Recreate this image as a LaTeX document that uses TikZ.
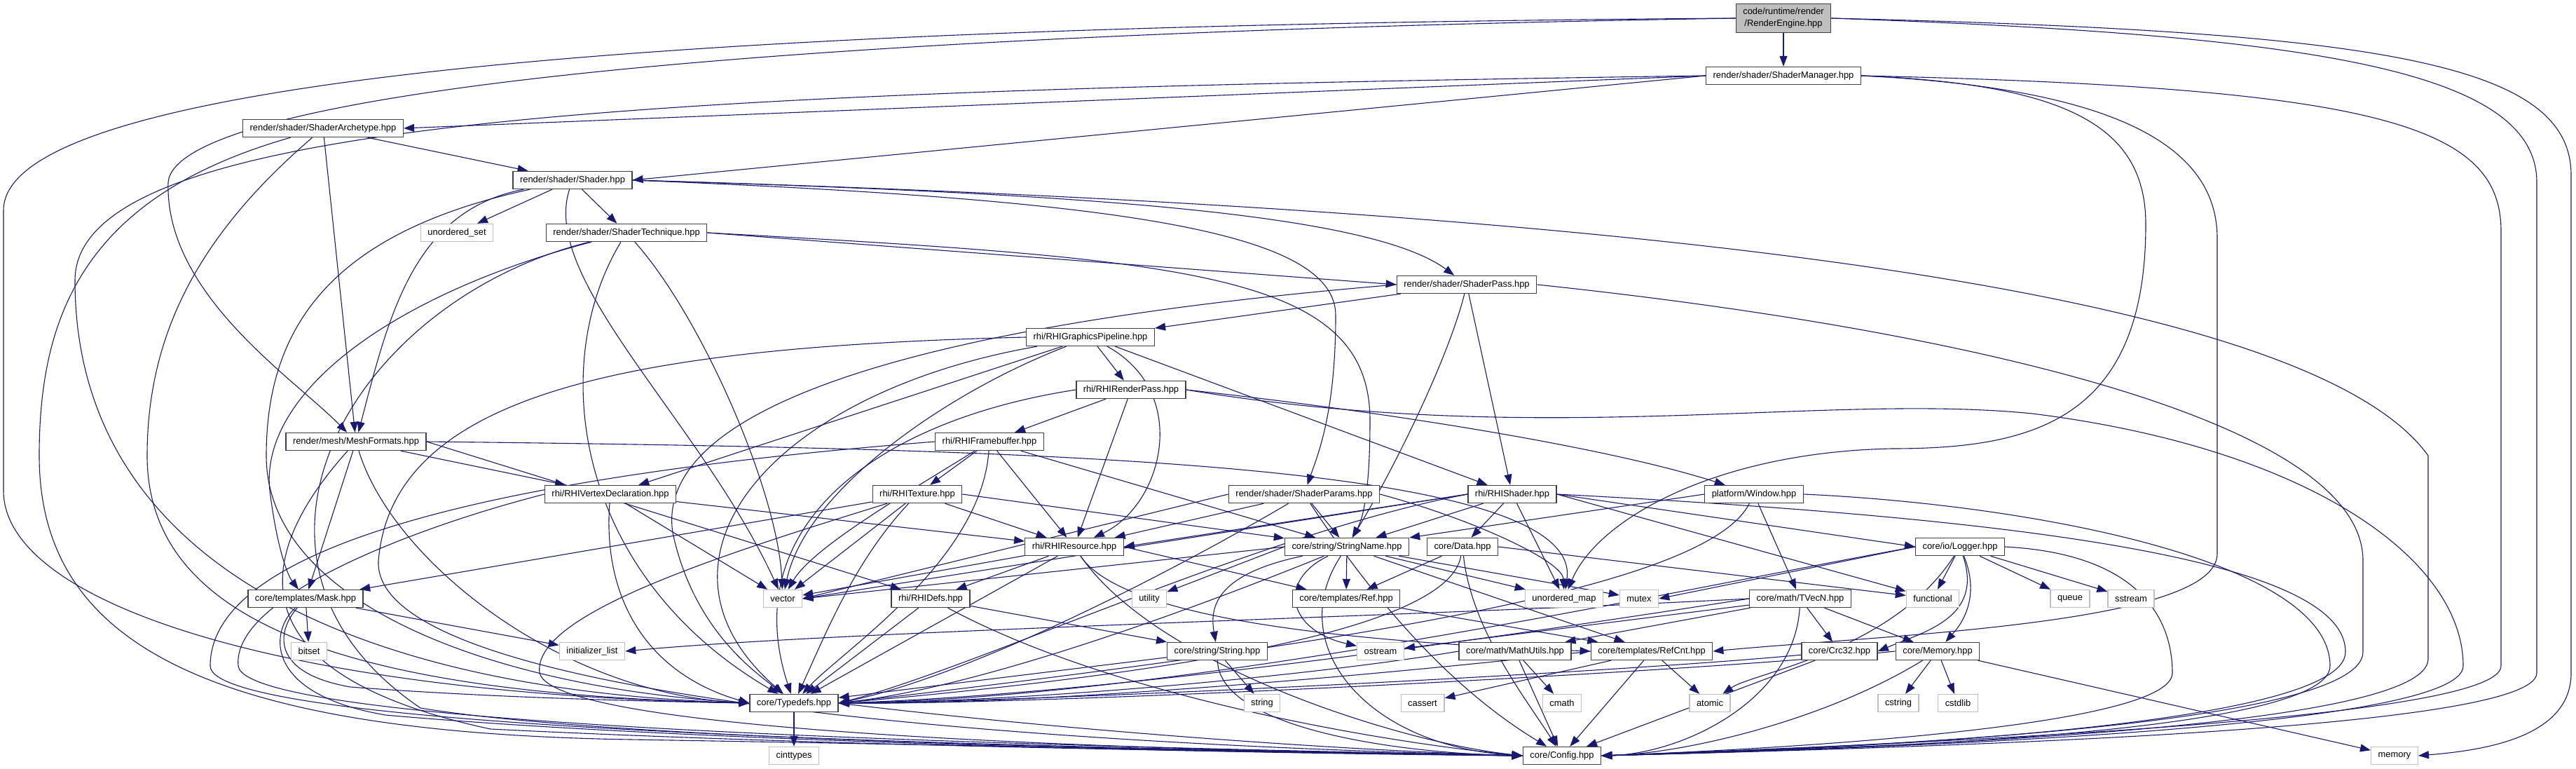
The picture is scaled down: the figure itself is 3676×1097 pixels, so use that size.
\documentclass[tikz,border=0pt]{standalone}
\usepackage{fontspec}
\setmainfont{Liberation Sans}
\usetikzlibrary{arrows.meta}
\definecolor{edgeblue}{HTML}{191970}
\pgfdeclarelayer{bg}
\pgfsetlayers{bg,main}

\begin{document}
\begin{tikzpicture}[x=1pt, y=-1pt,
      hdr/.style={draw=black!75, line width=1.4pt, fill=white, minimum height=25pt,
                  inner xsep=10pt, inner ysep=2pt, font=\fontsize{12.9}{16.7}\selectfont},
      sys/.style={hdr, draw=black!25},
      root/.style={hdr, fill=black!25, align=center, minimum height=41pt},
      dep/.style={draw=edgeblue, line width=1.1pt, -{Triangle[length=15pt,width=11pt]}}]
    \useasboundingbox (0,0) rectangle (3676,1097);

    % headers of the project
    \node[root] (re) at (2545,26) {code/runtime/render\\/RenderEngine.hpp};
    \node[hdr] (sm) at (2545,108) {render/shader/ShaderManager.hpp};
    \node[hdr] (arch) at (461,183) {render/shader/ShaderArchetype.hpp};
    \node[hdr] (shader) at (817,257) {render/shader/Shader.hpp};
    \node[sys] (uset) at (652,332) {unordered\_set};
    \node[hdr] (tech) at (894,332) {render/shader/ShaderTechnique.hpp};
    \node[hdr] (pass) at (2093,406) {render/shader/ShaderPass.hpp};
    \node[hdr] (gp) at (1556,481) {rhi/RHIGraphicsPipeline.hpp};
    \node[hdr] (rp) at (1614,556) {rhi/RHIRenderPass.hpp};
    \node[hdr] (mesh) at (508,630) {render/mesh/MeshFormats.hpp};
    \node[hdr] (fb) at (1412,630) {rhi/RHIFramebuffer.hpp};
    \node[hdr] (vd) at (871,705) {rhi/RHIVertexDeclaration.hpp};
    \node[hdr] (tex) at (1309,705) {rhi/RHITexture.hpp};
    \node[hdr] (params) at (1861,705) {render/shader/ShaderParams.hpp};
    \node[hdr] (rs) at (2158,705) {rhi/RHIShader.hpp};
    \node[hdr] (win) at (2503,705) {platform/Window.hpp};
    \node[hdr] (res) at (1533,780) {rhi/RHIResource.hpp};
    \node[hdr] (sn) at (1922,780) {core/string/StringName.hpp};
    \node[hdr] (data) at (2087,780) {core/Data.hpp};
    \node[hdr] (logger) at (2797,780) {core/io/Logger.hpp};
    \node[hdr] (mask) at (436,854) {core/templates/Mask.hpp};
    \node[sys] (vector) at (1117,854) {vector};
    \node[hdr] (defs) at (1328,854) {rhi/RHIDefs.hpp};
    \node[sys] (utility) at (1640,854) {utility};
    \node[hdr] (ref) at (1921,854) {core/templates/Ref.hpp};
    \node[sys] (umap) at (2232,854) {unordered\_map};
    \node[sys] (mutex) at (2339,854) {mutex};
    \node[hdr] (tvec) at (2569,854) {core/math/TVecN.hpp};
    \node[sys] (functional) at (2758,854) {functional};
    \node[sys] (queue) at (2954,854) {queue};
    \node[sys] (sstream) at (3041,854) {sstream};
    \node[sys] (bitset) at (441,929) {bitset};
    \node[sys] (initlist) at (845,929) {initializer\_list};
    \node[hdr] (str) at (1737,929) {core/string/String.hpp};
    \node[sys] (ostream) at (1970,929) {ostream};
    \node[hdr] (mu) at (2162,929) {core/math/MathUtils.hpp};
    \node[hdr] (rc) at (2357,929) {core/templates/RefCnt.hpp};
    \node[hdr] (crc) at (2625,929) {core/Crc32.hpp};
    \node[hdr] (mem) at (2765,929) {core/Memory.hpp};
    \node[hdr] (typedefs) at (1133,1003) {core/Typedefs.hpp};
    \node[sys] (stdstring) at (1801,1003) {string};
    \node[sys] (cassert) at (2030,1003) {cassert};
    \node[sys] (cmath) at (2229,1003) {cmath};
    \node[sys] (atomic) at (2440,1003) {atomic};
    \node[sys] (cstring) at (2709,1003) {cstring};
    \node[sys] (cstdlib) at (2794,1003) {cstdlib};
    \node[sys] (cinttypes) at (1133,1078) {cinttypes};
    \node[hdr] (config) at (2229,1078) {core/Config.hpp};
    \node[sys] (memory) at (3417,1078) {memory};

    \begin{pgfonlayer}{bg}
    % render engine
    \draw[dep] (re) -- (sm);
    \draw[dep] (re.west) .. controls (1000,50) and (250,140) .. (240,260) .. controls (235,420) and (420,540) .. (mesh);
    \draw[dep] (re.west) .. controls (1200,35) and (5,90) .. (5,300) -- (5,700) .. controls (5,860) and (400,990) .. (typedefs.west);
    \draw[dep] (re.east) .. controls (3300,50) and (3620,100) .. (3620,260) -- (3620,960) .. controls (3620,1040) and (2800,1065) .. (config.east);
    \draw[dep] (re.east) .. controls (3400,45) and (3669,90) .. (3669,250) -- (3669,960) .. controls (3669,1050) and (3550,1070) .. (memory.east);
    % shader manager
    \draw[dep] (sm.west) -- (arch.east);
    \draw[dep] (sm.west) -- (shader.east);
    \draw[dep] (sm.west) .. controls (900,130) and (107,170) .. (107,400) .. controls (107,800) and (500,985) .. (typedefs.west);
    \draw[dep] (sm.east) .. controls (2950,120) and (3062,180) .. (3062,320) .. controls (3062,600) and (2900,640) .. (2700,640) .. controls (2450,645) and (2280,740) .. (umap);
    \draw[dep] (sm.east) .. controls (3000,125) and (3164,200) .. (3164,340) -- (3164,790) .. controls (3164,890) and (2700,905) .. (rc.east);
    \draw[dep] (sm.east) .. controls (3400,125) and (3569,180) .. (3569,330) -- (3569,950) .. controls (3569,1020) and (2900,1055) .. (config.east);
    % archetype
    \draw[dep] (arch) -- (shader);
    \draw[dep] (arch) -- (mesh);
    \draw[dep] (arch) .. controls (120,280) and (56,450) .. (56,650) .. controls (56,920) and (300,1045) .. (900,1055) .. controls (1500,1065) and (1900,1075) .. (config.west);
    \draw[dep] (arch) .. controls (290,330) and (210,470) .. (210,650) .. controls (210,890) and (500,990) .. (typedefs.west);
    % shader
    \draw[dep] (shader) -- (uset);
    \draw[dep] (shader) -- (tech);
    \draw[dep] (shader.east) .. controls (1500,275) and (1950,300) .. (pass);
    \draw[dep] (shader.east) .. controls (1600,285) and (1906,330) .. (1906,450) .. controls (1906,590) and (1880,650) .. (params);
    \draw[dep] (shader.east) .. controls (2400,300) and (3300,420) .. (3465,650) -- (3465,940) .. controls (3465,1040) and (2700,1066) .. (config.east);
    \draw[dep] (shader) .. controls (590,300) and (555,450) .. (mesh);
    \draw[dep] (shader) .. controls (480,330) and (380,460) .. (380,650) .. controls (380,860) and (700,980) .. (typedefs.west);
    \draw[dep] (shader) .. controls (770,400) and (1000,600) .. (vector);
    % technique
    \draw[dep] (tech.east) -- (pass.west);
    \draw[dep] (tech.east) .. controls (1700,370) and (1955,390) .. (1955,600) .. controls (1955,700) and (1945,740) .. (sn);
    \draw[dep] (tech) .. controls (1000,450) and (1110,700) .. (vector);
    \draw[dep] (tech) .. controls (560,420) and (370,560) .. (385,700) .. controls (395,780) and (410,820) .. (mask);
    \draw[dep] (tech) .. controls (780,520) and (820,820) .. (typedefs);
    \draw[dep] (tech) .. controls (500,430) and (290,800) .. (600,1010) .. controls (900,1060) and (1800,1072) .. (config.west);
    % pass
    \draw[dep] (pass) -- (gp);
    \draw[dep] (pass) .. controls (2070,500) and (2000,650) .. (sn);
    \draw[dep] (pass) -- (rs);
    \draw[dep] (pass.west) .. controls (1400,455) and (930,560) .. (960,760) .. controls (990,900) and (1080,960) .. (typedefs);
    \draw[dep] (pass.east) .. controls (2800,470) and (3372,600) .. (3372,800) -- (3372,930) .. controls (3372,1040) and (2600,1068) .. (config.east);
    % pipeline
    \draw[dep] (gp) -- (rp);
    \draw[dep] (gp) -- (vd);
    \draw[dep] (gp) -- (rs);
    \draw[dep] (gp) .. controls (1700,560) and (1660,720) .. (res);
    \draw[dep] (gp) .. controls (1350,560) and (1150,700) .. (vector);
    \draw[dep] (gp) .. controls (1100,560) and (900,800) .. (typedefs);
    \draw[dep] (gp.west) .. controls (900,495) and (560,560) .. (540,800) .. controls (530,1000) and (1500,1062) .. (config.west);
    % render pass
    \draw[dep] (rp) -- (fb);
    \draw[dep] (rp) -- (res);
    \draw[dep] (rp.west) .. controls (1250,600) and (1050,750) .. (typedefs);
    \draw[dep] (rp.east) .. controls (2000,590) and (2300,640) .. (win);
    \draw[dep] (rp.east) .. controls (2200,640) and (2600,560) .. (2900,590) .. controls (3300,640) and (3515,800) .. (3515,950) .. controls (3515,1040) and (2700,1067) .. (config.east);
    % framebuffer
    \draw[dep] (fb) -- (tex);
    \draw[dep] (fb) -- (res);
    \draw[dep] (fb) .. controls (1300,700) and (1160,780) .. (vector);
    \draw[dep] (fb) .. controls (1400,800) and (1200,930) .. (typedefs);
    \draw[dep] (fb.west) .. controls (700,680) and (300,780) .. (300,950) .. controls (300,1045) and (1500,1066) .. (config.west);
    \draw[dep] (fb) -- (sn);
    % texture
    \draw[dep] (tex) -- (res);
    \draw[dep] (tex) -- (mask);
    \draw[dep] (tex) -- (vector);
    \draw[dep] (tex) .. controls (1220,800) and (1180,900) .. (typedefs);
    \draw[dep] (tex) .. controls (1000,800) and (760,880) .. (770,960) .. controls (790,1045) and (1600,1070) .. (config.west);
    \draw[dep] (tex.east) -- (sn);
    % vertex declaration
    \draw[dep] (vd) -- (res);
    \draw[dep] (vd) -- (vector);
    \draw[dep] (vd) .. controls (860,850) and (920,960) .. (typedefs.west);
    \draw[dep] (vd.west) .. controls (600,750) and (330,850) .. (340,950) .. controls (350,1040) and (1500,1064) .. (config.west);
    % mesh formats
    \draw[dep] (mesh) -- (vd);
    \draw[dep] (mesh) -- (mask);
    \draw[dep] (mesh.east) -- (defs);
    \draw[dep] (mesh.east) .. controls (1500,640) and (2260,660) .. (umap);
    \draw[dep] (mesh) .. controls (560,800) and (800,990) .. (typedefs.west);
    \draw[dep] (mesh) .. controls (400,750) and (280,950) .. (700,1040) .. controls (1200,1065) and (1800,1073) .. (config.west);
    % mask
    \draw[dep] (mask) -- (bitset);
    \draw[dep] (mask) -- (initlist);
    \draw[dep] (mask) .. controls (395,900) and (385,960) .. (500,980) .. controls (700,995) and (900,1000) .. (typedefs.west);
    \draw[dep] (mask) .. controls (385,900) and (375,990) .. (550,1020) .. controls (1000,1060) and (1800,1075) .. (config.west);
    % resource
    \draw[dep] (res) -- (defs);
    \draw[dep] (res) -- (vector);
    \draw[dep] (res) -- (typedefs);
    \draw[dep] (res.east) -- (ref);
    \draw[dep] (res) .. controls (1600,880) and (1900,915) .. (rc.west);
    \draw[dep] (res) .. controls (1650,950) and (2000,1060) .. (config.west);
    % defs
    \draw[dep] (defs) -- (typedefs);
    \draw[dep] (defs) -- (str);
    \draw[dep] (defs) .. controls (1600,1000) and (2000,1062) .. (config.west);
    % shader params
    \draw[dep] (params) -- (sn);
    \draw[dep] (params.east) .. controls (2100,740) and (2230,800) .. (umap);
    \draw[dep] (params) -- (res);
    \draw[dep] (params.west) -- (vector.east);
    \draw[dep] (params) .. controls (1700,800) and (1400,960) .. (typedefs.east);
    \draw[dep] (params) .. controls (1990,900) and (2100,1000) .. (config);
    % rhi shader
    \draw[dep] (rs.west) -- (res.east);
    \draw[dep] (rs.west) -- (vector.east);
    \draw[dep] (rs) -- (sn);
    \draw[dep] (rs) -- (data);
    \draw[dep] (rs) -- (umap);
    \draw[dep] (rs.east) -- (functional);
    \draw[dep] (rs.east) -- (logger.west);
    \draw[dep] (rs.west) .. controls (1800,760) and (1400,950) .. (typedefs.east);
    \draw[dep] (rs.east) .. controls (2900,740) and (3347,800) .. (3347,930) .. controls (3347,1040) and (2600,1070) .. (config.east);
    % window
    \draw[dep] (win) -- (tvec);
    \draw[dep] (win.west) -- (sn);
    \draw[dep] (win) .. controls (2440,830) and (2000,910) .. (typedefs.east);
    \draw[dep] (win.east) .. controls (2900,720) and (3325,800) .. (3325,950) .. controls (3325,1050) and (2600,1070) .. (config.east);
    % string name
    \draw[dep] (sn) -- (ref);
    \draw[dep] (sn) -- (umap);
    \draw[dep] (sn) -- (mutex);
    \draw[dep] (sn.west) -- (utility);
    \draw[dep] (sn) .. controls (1820,830) and (1840,900) .. (ostream);
    \draw[dep] (sn) .. controls (1730,820) and (1727,870) .. (str);
    \draw[dep] (sn) -- (rc);
    \draw[dep] (sn.west) -- (vector.east);
    \draw[dep] (sn) .. controls (1700,870) and (1400,980) .. (typedefs.east);
    \draw[dep] (sn) .. controls (1830,920) and (1950,1065) .. (config.west);
    % data
    \draw[dep] (data) -- (ref);
    \draw[dep] (data.east) -- (functional);
    \draw[dep] (data) .. controls (2070,880) and (1800,950) .. (typedefs.east);
    \draw[dep] (data) .. controls (2100,900) and (2180,1000) .. (config);
    % ref
    \draw[dep] (ref) -- (rc);
    % string
    \draw[dep] (str) -- (stdstring);
    \draw[dep] (str) -- (typedefs);
    \draw[dep] (str) .. controls (1740,1040) and (2000,1075) .. (config.west);
    % vector math
    \draw[dep] (tvec) -- (mu);
    \draw[dep] (tvec) -- (crc);
    \draw[dep] (tvec) -- (mem);
    \draw[dep] (tvec.west) .. controls (2000,880) and (1200,900) .. (initlist.east);
    \draw[dep] (tvec) -- (ostream);
    \draw[dep] (tvec.west) .. controls (2200,900) and (1600,990) .. (typedefs.east);
    \draw[dep] (tvec) .. controls (2560,1000) and (2400,1075) .. (config.east);
    % logger
    \draw[dep] (logger) -- (functional);
    \draw[dep] (logger) -- (queue);
    \draw[dep] (logger) -- (sstream);
    \draw[dep] (logger.west) -- (mutex.east);
    \draw[dep] (logger) .. controls (2830,860) and (2790,900) .. (mem);
    \draw[dep] (logger) .. controls (2830,880) and (2750,900) .. (crc.east);
    \draw[dep] (logger) .. controls (2700,930) and (2500,960) .. (atomic);
    \draw[dep] (logger.west) .. controls (2400,840) and (1700,995) .. (typedefs.east);
    \draw[dep] (logger.east) .. controls (3050,790) and (3100,880) .. (3100,960) .. controls (3100,1040) and (2500,1070) .. (config.east);
    % leaves
    \draw[dep] (mu) -- (cmath);
    \draw[dep] (mu) -- (config);
    \draw[dep] (mu.west) .. controls (1900,960) and (1500,1000) .. (typedefs.east);
    \draw[dep] (rc) -- (atomic);
    \draw[dep] (rc) -- (cassert);
    \draw[dep] (rc) -- (config);
    \draw[dep] (rc.west) .. controls (2000,960) and (1500,1005) .. (typedefs.east);
    \draw[dep] (crc) .. controls (2300,960) and (1500,1000) .. (typedefs.east);
    \draw[dep] (crc) -- (config);
    \draw[dep] (mem) -- (cstring);
    \draw[dep] (mem) -- (cstdlib);
    \draw[dep] (mem) -- (memory);
    \draw[dep] (mem.west) .. controls (2400,960) and (1500,1005) .. (typedefs.east);
    \draw[dep] (mem) .. controls (2600,1030) and (2400,1075) .. (config.east);
    \draw[dep] (typedefs) -- (cinttypes);
    \draw[dep] (typedefs.east) .. controls (1500,1040) and (1900,1070) .. (config.west);
    \end{pgfonlayer}
  \end{tikzpicture}
\end{document}
